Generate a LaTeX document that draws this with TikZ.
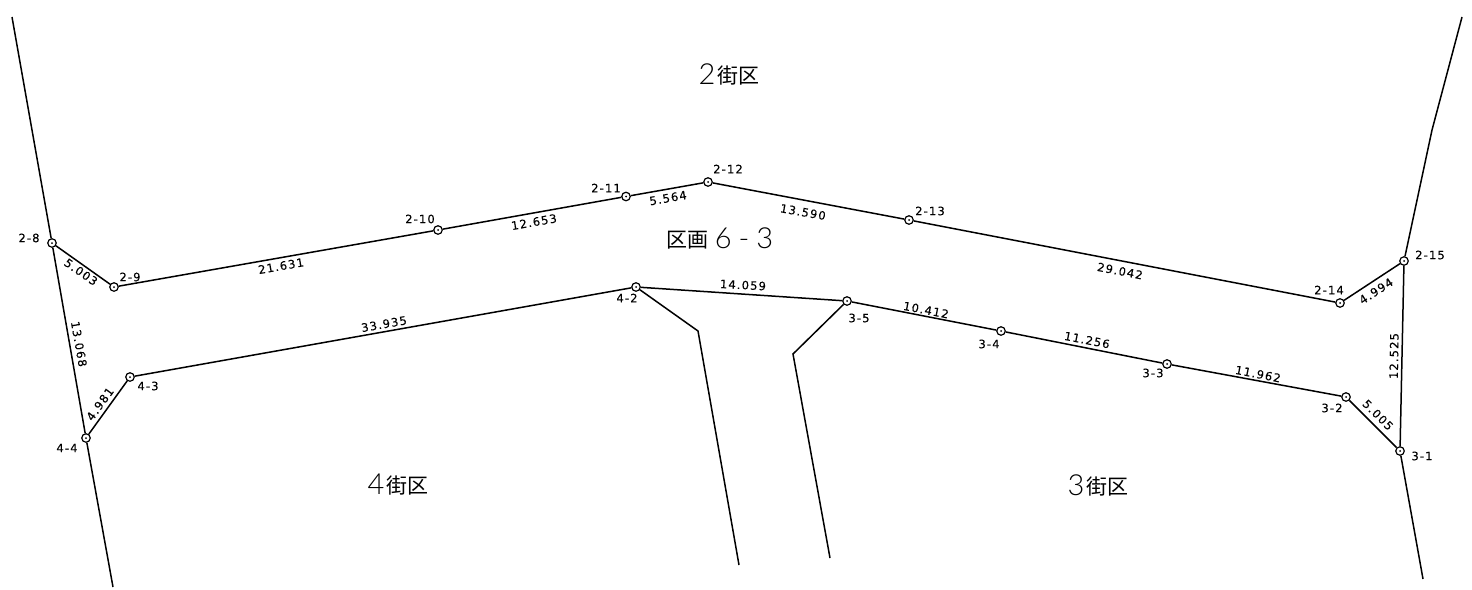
\documentclass[tikz,border=0pt]{standalone}
\usepackage{fontspec}
\setmainfont{Liberation Sans}
\newfontfamily\cadfont[LetterSpace=10,FakeBold=0.25]{DejaVu Sans}
\newfontfamily\cjkfont{Noto Sans CJK JP}
\newfontfamily\bigfont{Lato Light}
\newcommand{\bigdigit}[1]{{\bigfont\fontsize{29}{29}\selectfont #1}}
\newcommand{\cjkpart}[1]{\raisebox{1pt}{\cjkfont\fontsize{21}{22}\selectfont #1}}
\tikzset{
  pt/.style={circle,draw=black,line width=1.2pt,fill=white,minimum size=8.5pt,inner sep=0pt,
    path picture={\fill[black] (path picture bounding box.center) circle (1pt);}},
  ptlabel/.style={font=\cadfont\fontsize{11.5}{12}\selectfont,inner sep=0pt},
  dim/.style={font=\cadfont\fontsize{11.5}{12}\selectfont,inner sep=0pt},
  region/.style={inner sep=0pt},
  lot/.style={line width=1.5pt,black}
}
\begin{document}
\begin{tikzpicture}[x=1pt,y=-1pt]
\useasboundingbox (0,0) rectangle (1472,589);
% free ends
\coordinate (lt) at (12,17);
\coordinate (lb) at (113,587);
\coordinate (rt) at (1462,17);
\coordinate (rm) at (1432,130);
\coordinate (rb) at (1423,579);
\coordinate (ra) at (698,331);
\coordinate (rc) at (739,565);
\coordinate (sa) at (793,354);
\coordinate (sc) at (830,558);
% points
\node[pt] (p28) at (52,243) {};
\node[pt] (p29) at (114,287) {};
\node[pt] (p210) at (438,230) {};
\node[pt] (p211) at (626,196.5) {};
\node[pt] (p212) at (708,182) {};
\node[pt] (p213) at (909,220) {};
\node[pt] (p214) at (1340,303) {};
\node[pt] (p215) at (1404,261) {};
\node[pt] (p31) at (1400,451) {};
\node[pt] (p32) at (1346,397) {};
\node[pt] (p33) at (1167,364) {};
\node[pt] (p34) at (1001,331) {};
\node[pt] (p35) at (847,301) {};
\node[pt] (p42) at (636,287) {};
\node[pt] (p43) at (130,377) {};
\node[pt] (p44) at (86,438) {};
% lines
\draw[lot] (lt) -- (p28);
\draw[lot] (p28) -- (p44);
\draw[lot] (p44) -- (lb);
\draw[lot] (p28) -- (p29);
\draw[lot] (p29) -- (p210);
\draw[lot] (p210) -- (p211);
\draw[lot] (p211) -- (p212);
\draw[lot] (p212) -- (p213);
\draw[lot] (p213) -- (p214);
\draw[lot] (p214) -- (p215);
\draw[lot] (p215) -- (p31);
\draw[lot] (p215) -- (rm) -- (rt);
\draw[lot] (p31) -- (rb);
\draw[lot] (p31) -- (p32);
\draw[lot] (p32) -- (p33);
\draw[lot] (p33) -- (p34);
\draw[lot] (p34) -- (p35);
\draw[lot] (p35) -- (p42);
\draw[lot] (p42) -- (p43);
\draw[lot] (p43) -- (p44);
\draw[lot] (p42) -- (ra) -- (rc);
\draw[lot] (p35) -- (sa) -- (sc);
% point labels
\node[ptlabel] (l28) at (29,238) {2-8};
\node[ptlabel] (l29) at (130,277) {2-9};
\node[ptlabel] (l210) at (420,219) {2-10};
\node[ptlabel] (l211) at (606,188) {2-11};
\node[ptlabel] (l212) at (728,169) {2-12};
\node[ptlabel] (l213) at (930,211) {2-13};
\node[ptlabel] (l214) at (1329,290) {2-14};
\node[ptlabel] (l215) at (1430,255) {2-15};
\node[ptlabel] (l31) at (1422,456) {3-1};
\node[ptlabel] (l32) at (1332,408) {3-2};
\node[ptlabel] (l33) at (1153,373) {3-3};
\node[ptlabel] (l34) at (989,344) {3-4};
\node[ptlabel] (l35) at (859,318) {3-5};
\node[ptlabel] (l42) at (627,298) {4-2};
\node[ptlabel] (l43) at (148,386) {4-3};
\node[ptlabel] (l44) at (67,448) {4-4};
% dimensions
\node[dim,rotate=-35] (d1) at (81,272) {5.003};
\node[dim,rotate=-80] (d2) at (79,344) {13.068};
\node[dim,rotate=54] (d3) at (100,404) {4.981};
\node[dim,rotate=10] (d4) at (281,266) {21.631};
\node[dim,rotate=10] (d5) at (534,222) {12.653};
\node[dim,rotate=10] (d6) at (668,198) {5.564};
\node[dim,rotate=-10] (d7) at (803,212) {13.590};
\node[dim,rotate=-11] (d8) at (1120,271) {29.042};
\node[dim,rotate=33] (d9) at (1376,291) {4.994};
\node[dim,rotate=89] (d10) at (1394,356) {12.525};
\node[dim,rotate=-45] (d11) at (1378,415) {5.005};
\node[dim,rotate=-11] (d12) at (1258,374) {11.962};
\node[dim,rotate=-11] (d13) at (1087,340) {11.256};
\node[dim,rotate=-11] (d14) at (926,310) {10.412};
\node[dim,rotate=-3] (d15) at (743,285) {14.059};
\node[dim,rotate=10] (d16) at (384,324) {33.935};
% regions
\node[region] (r2) at (729,74) {\bigdigit{2}\kern2pt\cjkpart{街区}};
\node[region] (r6) at (720,238) {\cjkpart{区画}\kern6pt\bigdigit{6}\kern7pt\bigdigit{-}\kern7pt\bigdigit{3}};
\node[region] (r4) at (398,485) {\bigdigit{4}\kern2pt\cjkpart{街区}};
\node[region] (r3) at (1098,485) {\bigdigit{3}\kern2pt\cjkpart{街区}};
\end{tikzpicture}
\end{document}
